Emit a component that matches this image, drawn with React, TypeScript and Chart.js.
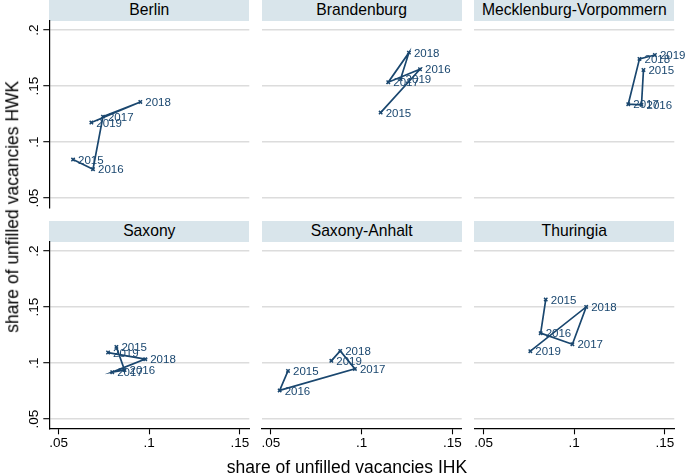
import React, { useEffect, useRef } from "react";
import { Chart, registerables } from "chart.js";

Chart.register(...registerables);

// ---------- data ----------
const years = ["2015", "2016", "2017", "2018", "2019"];
const states = [
  "Berlin",
  "Brandenburg",
  "Mecklenburg-Vorpommern",
  "Saxony",
  "Saxony-Anhalt",
  "Thuringia",
];

const berlinIHK = [0.058, 0.069, 0.0745, 0.0951, 0.0681];
const berlinHWK = [0.0844, 0.0758, 0.1227, 0.1358, 0.1174];

const brandenburgIHK = [0.1105, 0.1322, 0.1147, 0.1261, 0.1215];
const brandenburgHWK = [0.1263, 0.165, 0.1534, 0.1798, 0.1562];

const mvIHK = [0.1382, 0.1371, 0.1298, 0.136, 0.1445];
const mvHWK = [0.1643, 0.1332, 0.1338, 0.1742, 0.1777];

const saxonyIHK = [0.0819, 0.0864, 0.0796, 0.0978, 0.0773];
const saxonyHWK = [0.1144, 0.0937, 0.0919, 0.1035, 0.1094];

const saxonyAnhaltIHK = [0.0594, 0.0548, 0.0963, 0.0882, 0.0833];
const saxonyAnhaltHWK = [0.093, 0.0756, 0.0948, 0.1109, 0.102];

const thuringiaIHK = [0.0843, 0.0815, 0.099, 0.1066, 0.0758];
const thuringiaHWK = [0.1567, 0.1267, 0.1168, 0.1501, 0.1106];

const xTickValues = [0.05, 0.1, 0.15];
const xTickLabels = [".05", ".1", ".15"];
const yTickValues = [0.05, 0.1, 0.15, 0.2];
const yTickLabels = [".05", ".1", ".15", ".2"];

const xTitle = "share of unfilled vacancies IHK";
const yTitle = "share of unfilled vacancies HWK";

const X_MIN = 0.0449;
const X_MAX = 0.1552;
const Y_MIN = 0.0418;
const Y_MAX = 0.2083;

const seriesIHK = [berlinIHK, brandenburgIHK, mvIHK, saxonyIHK, saxonyAnhaltIHK, thuringiaIHK];
const seriesHWK = [berlinHWK, brandenburgHWK, mvHWK, saxonyHWK, saxonyAnhaltHWK, thuringiaHWK];

// ---------- layout / style ----------
const FONT = '"Liberation Sans", Arial, Helvetica, sans-serif';
const NAVY = "#1a476f";
const GRID = "#dcdcdc";
const HEADER_BG = "#d9e5eb";
const W = 685;
const H = 475;
const COL_LEFT = [49.3, 261.7, 474.3];
const ROW_TOP = [20.7, 241.7];
const PANEL_W = 200;
const PLOT_H = 186.6;
const HEADER_H = 21;
const Y_AXIS_W = 40;
const X_AXIS_H = 30;

const labelPlugin = {
  id: "yearLabels",
  afterDatasetsDraw(chart: any) {
    const ctx = chart.ctx;
    ctx.save();
    ctx.font = `11.5px ${FONT}`;
    ctx.fillStyle = NAVY;
    ctx.textAlign = "left";
    ctx.textBaseline = "middle";
    chart.getDatasetMeta(0).data.forEach((el: any, i: number) => {
      ctx.fillText(years[i], el.x + 5, el.y + 1);
    });
    ctx.restore();
  },
};

function Panel({ index }: { index: number }) {
  const ref = useRef<HTMLCanvasElement | null>(null);
  useEffect(() => {
    if (!ref.current) return;
    const col = index % 3;
    const row = Math.floor(index / 3);
    const left = COL_LEFT[col];
    const top = ROW_TOP[row];
    const showY = col === 0;
    const showX = row === 1;
    const yW = showY ? Y_AXIS_W : 0;
    const xH = showX ? X_AXIS_H : 0;

    const points = seriesIHK[index].map((x, i) => ({ x, y: seriesHWK[index][i] }));

    const chart = new Chart(ref.current, {
      type: "scatter",
      data: {
        datasets: [
          {
            data: points,
            showLine: true,
            tension: 0,
            borderColor: NAVY,
            borderWidth: 1.7,
            pointStyle: "crossRot",
            pointRadius: 2.4,
            pointBorderWidth: 1.5,
            pointBackgroundColor: NAVY,
            pointBorderColor: NAVY,
          },
        ],
      },
      options: {
        animation: false,
        responsive: false,
        events: [],
        layout: {
          padding: {
            left: left - yW,
            right: W - (left + PANEL_W),
            top: top,
            bottom: H - (top + PLOT_H) - xH,
          },
        },
        plugins: {
          legend: { display: false },
          tooltip: { enabled: false },
          title: { display: false },
        },
        scales: {
          x: {
            type: "linear",
            position: "bottom",
            display: showX,
            min: X_MIN,
            max: X_MAX,
            afterBuildTicks: (s: any) => {
              s.ticks = xTickValues.map((v) => ({ value: v }));
            },
            afterFit: (s: any) => {
              s.height = xH;
            },
            grid: {
              drawOnChartArea: false,
              drawTicks: true,
              tickLength: 6,
              tickColor: "#000",
              tickWidth: 1.1,
            },
            border: { display: true, color: "#000", width: 1.2 },
            ticks: {
              autoSkip: false,
              maxRotation: 0,
              minRotation: 0,
              padding: 1,
              color: "#000",
              font: { family: FONT, size: 13.5 },
              callback: (_v: any, i: number) => xTickLabels[i],
            },
          },
          y: {
            type: "linear",
            position: "left",
            display: true,
            min: Y_MIN,
            max: Y_MAX,
            afterBuildTicks: (s: any) => {
              s.ticks = yTickValues.map((v) => ({ value: v }));
            },
            afterFit: (s: any) => {
              s.width = yW;
            },
            grid: {
              display: true,
              drawOnChartArea: true,
              color: GRID,
              lineWidth: 1.4,
              drawTicks: showY,
              tickLength: 6,
              tickColor: "#000",
              tickWidth: 1.1,
            },
            border: { display: showY, color: "#000", width: 1.2 },
            ticks: {
              display: showY,
              autoSkip: false,
              minRotation: 90,
              maxRotation: 90,
              crossAlign: "center",
              padding: 0,
              color: "#000",
              font: { family: FONT, size: 13.5 },
              callback: (_v: any, i: number) => yTickLabels[i],
            },
          },
        },
      } as any,
      plugins: [labelPlugin],
    });
    return () => chart.destroy();
  }, [index]);

  return (
    <canvas
      ref={ref}
      width={W}
      height={H}
      style={{
        position: "absolute",
        left: 0,
        top: 0,
        width: W,
        height: H,
        pointerEvents: "none",
      }}
    />
  );
}

export default function App() {
  return (
    <div
      style={{
        position: "absolute",
        left: 0,
        top: 0,
        width: W,
        height: H,
        background: "#fff",
        overflow: "hidden",
        fontFamily: FONT,
      }}
    >
      {states.map((name, i) => {
        const col = i % 3;
        const row = Math.floor(i / 3);
        return (
          <div
            key={"h" + i}
            style={{
              position: "absolute",
              left: COL_LEFT[col],
              top: ROW_TOP[row] - HEADER_H,
              width: PANEL_W,
              height: HEADER_H,
              lineHeight: HEADER_H - 1 + "px",
              background: HEADER_BG,
              color: "#000",
              fontSize: 15.7,
              textAlign: "center",
              whiteSpace: "nowrap",
            }}
          >
            {name}
          </div>
        );
      })}
      {states.map((_n, i) => (
        <Panel key={"p" + i} index={i} />
      ))}
      <div
        style={{
          position: "absolute",
          left: 347 - 200,
          top: 459.3,
          width: 400,
          height: 17.5,
          lineHeight: "17.5px",
          fontSize: 17.5,
          textAlign: "center",
          color: "#000",
          whiteSpace: "nowrap",
        }}
      >
        {xTitle}
      </div>
      <div
        style={{
          position: "absolute",
          left: 13.4 - 200,
          top: 207 - 8.75,
          width: 400,
          height: 17.5,
          lineHeight: "17.5px",
          fontSize: 17.5,
          textAlign: "center",
          color: "#000",
          whiteSpace: "nowrap",
          transform: "rotate(-90deg)",
        }}
      >
        {yTitle}
      </div>
    </div>
  );
}
